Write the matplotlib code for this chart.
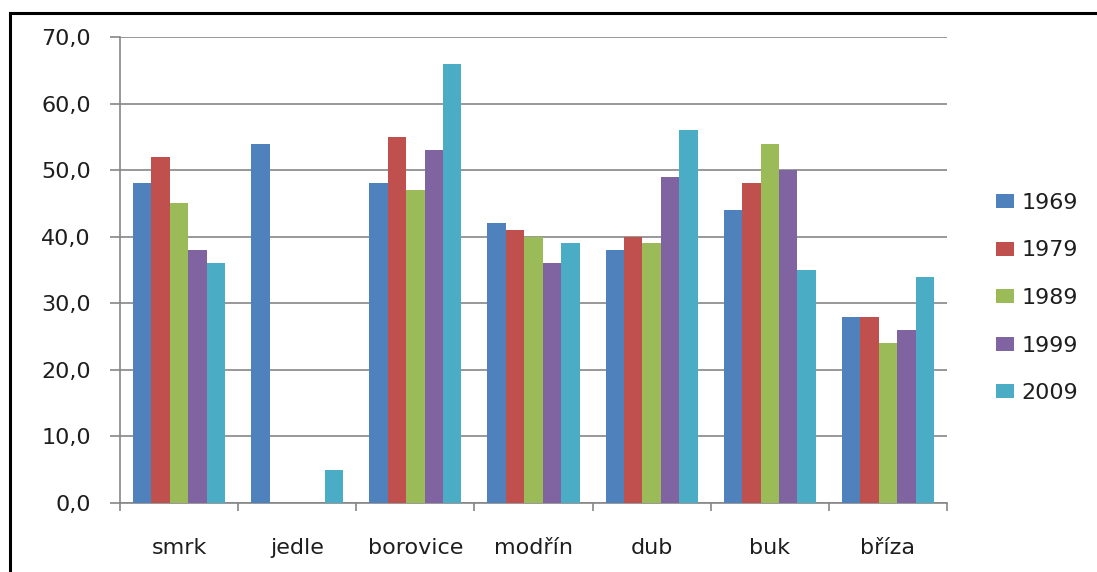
import matplotlib
matplotlib.use("Agg")
import matplotlib.pyplot as plt
from matplotlib.ticker import FuncFormatter, FixedLocator
import numpy as np

plt.rcParams['font.family'] = ['DejaVu Sans']

categories = ["smrk", "jedle", "borovice", "modřín", "dub", "buk", "bříza"]
years = ["1969", "1979", "1989", "1999", "2009"]
v1969 = [48, 54, 48, 42, 38, 44, 28]
v1979 = [52, 0, 55, 41, 40, 48, 28]
v1989 = [45, 0, 47, 40, 39, 54, 24]
v1999 = [38, 0, 53, 36, 49, 50, 26]
v2009 = [36, 5, 66, 39, 56, 35, 34]
series = [v1969, v1979, v1989, v1999, v2009]
colors = ["#4F81BD", "#C0504D", "#9BBB59", "#8064A2", "#4BACC6"]

W, H = 1097, 572
fig = plt.figure(figsize=(W / 100, H / 100), dpi=100)

# outer frame of the chart area (left and top edges visible)
fig.add_artist(plt.Line2D([10 / W, 10 / W], [-0.02, (H - 13) / H], transform=fig.transFigure,
                          color="black", linewidth=2.2, solid_capstyle="projecting"))
fig.add_artist(plt.Line2D([10 / W, 1.02], [(H - 13) / H, (H - 13) / H], transform=fig.transFigure,
                          color="black", linewidth=2.2, solid_capstyle="projecting"))

ax = fig.add_axes([120 / W, 69 / H, (947 - 120) / W, (503 - 37) / H])

x = np.arange(len(categories))
bw = 0.156
for i, (vals, c, yr) in enumerate(zip(series, colors, years)):
    ax.bar(x + (i - 2) * bw, vals, width=bw, color=c, label=yr, zorder=3)

ax.set_xlim(-0.5, len(categories) - 0.5)
ax.set_ylim(0, 70)
ax.set_yticks(np.arange(0, 71, 10))
ax.yaxis.set_major_formatter(FuncFormatter(lambda v, p: f"{v:.1f}".replace(".", ",")))
ax.grid(axis="y", color="#868686", linewidth=1.2, zorder=0)

ax.set_xticks(x)
ax.set_xticklabels(categories)
ax.xaxis.set_minor_locator(FixedLocator(np.arange(-0.5, len(categories), 1.0)))
ax.tick_params(axis="x", which="major", length=0, pad=25, labelsize=16, colors="#1e1e1e")
ax.tick_params(axis="x", which="minor", length=6, width=1.2, color="#868686")
ax.tick_params(axis="y", length=7, width=1.2, color="#868686", pad=14,
               labelsize=16, labelcolor="#1e1e1e")

for s in ["top", "right"]:
    ax.spines[s].set_visible(False)
for s in ["left", "bottom"]:
    ax.spines[s].set_color("#868686")
    ax.spines[s].set_linewidth(1.2)

leg = ax.legend(loc="center left", bbox_to_anchor=(996 / W, 274 / H),
                bbox_transform=fig.transFigure, frameon=False, fontsize=16,
                handlelength=0.8, handleheight=0.6, handletextpad=0.35,
                labelspacing=1.24, borderaxespad=0, borderpad=0)
for t in leg.get_texts():
    t.set_color("#1e1e1e")

fig.savefig("out.png", dpi=100)
